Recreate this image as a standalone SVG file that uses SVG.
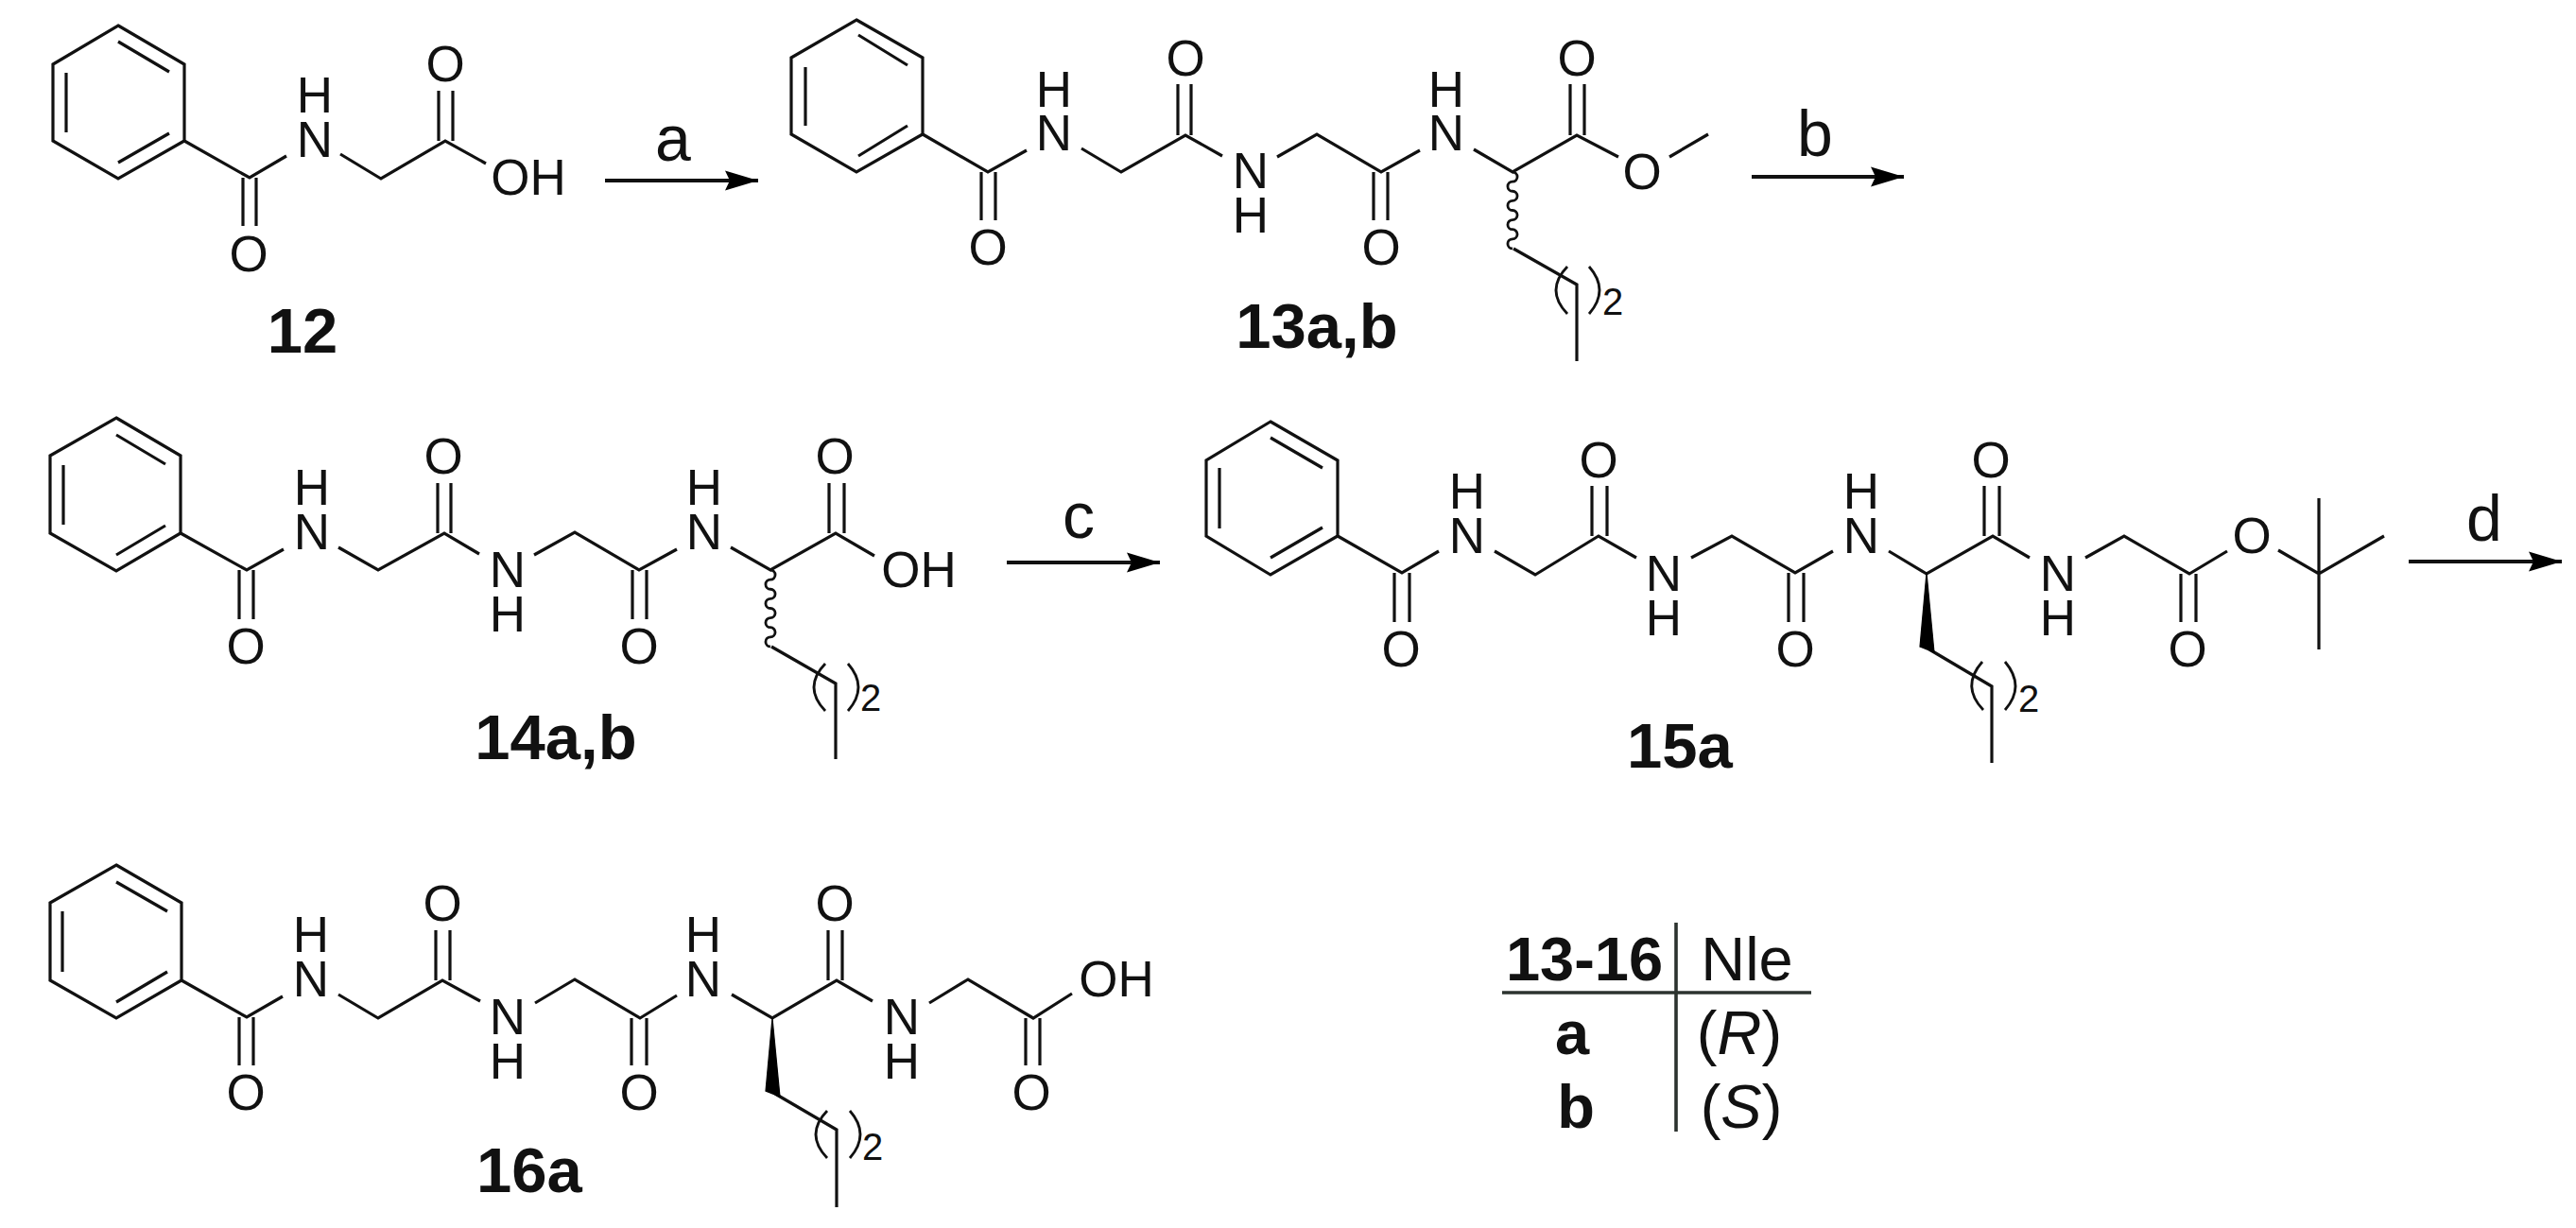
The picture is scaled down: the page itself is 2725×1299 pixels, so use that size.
<svg xmlns="http://www.w3.org/2000/svg" width="2725" height="1299" viewBox="0 0 2725 1299">
<style>
text{font-family:"Liberation Sans",Arial,sans-serif;fill:#111;text-anchor:middle}
.a{font-size:53px}
.s{font-size:40px}
.r{font-size:68px}
.l{font-size:67px;font-weight:bold}
.t{font-size:65px}
.b{fill:none;stroke:#111;stroke-width:3.2;stroke-linejoin:miter}
.p{fill:none;stroke:#111;stroke-width:2.8}
.v{fill:none;stroke:#111;stroke-width:2.8}
.w{fill:#000;stroke:#000;stroke-width:1.2}
.g{stroke:#2c332f;stroke-width:3.6}
.c{stroke:#111;stroke-width:3.8;fill:none}
</style>
<defs>
<marker id="ah" markerUnits="userSpaceOnUse" markerWidth="38" markerHeight="24" refX="35" refY="12" orient="auto"><path d="M0,1.5L35,12L0,22.5L5,12Z" fill="#000"/></marker>
<path id="wave" class="v" d="M0,0a5.06,5.06 0 0 1 0,10.12a5.06,5.06 0 0 0 0,10.12a5.06,5.06 0 0 1 0,10.12a5.06,5.06 0 0 0 0,10.12a5.06,5.06 0 0 1 0,10.12a5.06,5.06 0 0 0 0,10.12a5.06,5.06 0 0 1 0,10.12a5.06,5.06 0 0 0 0,10.12"/>
</defs>
<rect width="2725" height="1299" fill="#fff"/>
<g id="connectors">
<line class="c" x1="640" y1="191" x2="802" y2="191" marker-end="url(#ah)"/>
<line class="c" x1="1853" y1="187" x2="2014" y2="187" marker-end="url(#ah)"/>
<line class="c" x1="1065" y1="595" x2="1227" y2="595" marker-end="url(#ah)"/>
<line class="c" x1="2548" y1="594" x2="2710" y2="594" marker-end="url(#ah)"/>
<text class="r" x="712" y="170">a</text>
<text class="r" x="1920" y="165">b</text>
<text class="r" x="1141" y="569">c</text>
<text class="r" x="2628" y="572">d</text>
</g>
<g id="mol-12">
<path class="b" d="M125,27L195,68V149L125,189L56,149V68ZM125,44L179,76M70,77V140M125,172L179,141M195,149L264,188L303,165M257,188V239M271,188V239M360,163L403,189L471,149L514,173M464,149V96M479,149V96"/>
<text class="a" x="263" y="287">O</text>
<text class="a" x="333" y="119">H<tspan x="333" dy="47">N</tspan></text>
<text class="a" x="471" y="86">O</text>
<text class="a" x="559" y="206">OH</text>
<text class="l" x="320" y="373">12</text>
</g>
<g id="mol-13ab">
<path class="b" d="M906,21L976,61V142L906,182L837,142V61ZM908,37L960,69M852,71V133M908,165L960,133M976,142L1045,182L1086,159M1038,182V233M1053,182V233M1144,157L1186,182L1254,143L1293,165M1246,143V89M1260,143V89M1351,166L1393,142L1461,182L1502,159M1453,182V233M1468,182V233M1559,158L1600,182L1668,143L1712,166M1661,143V89M1676,143V89M1766,166L1807,142M1601,263L1668,301V382"/>
<use href="#wave" x="1600" y="182"/>
<path class="p" d="M1658,282Q1634,307 1658,332M1681,282Q1703,307 1681,332"/>
<text class="a" x="1045" y="280">O</text>
<text class="a" x="1115" y="113">H<tspan x="1115" dy="46">N</tspan></text>
<text class="a" x="1254" y="80">O</text>
<text class="a" x="1323" y="199">N<tspan x="1323" dy="47">H</tspan></text>
<text class="a" x="1461" y="280">O</text>
<text class="a" x="1530" y="113">H<tspan x="1530" dy="46">N</tspan></text>
<text class="a" x="1668" y="80">O</text>
<text class="a" x="1737" y="200">O</text>
<text class="s" x="1706" y="333">2</text>
<text class="l" x="1393" y="368">13a,b</text>
</g>
<g id="mol-14ab">
<path class="b" d="M123,442L191,482V564L123,604L53,564V482ZM123,460L175,491M67,492V555M123,587L175,556M191,564L261,603L300,581M253,603V655M268,603V655M358,579L400,603L470,564L507,586M463,564V511M477,564V511M565,587L608,563L676,603L716,581M669,603V655M684,603V655M773,579L815,603L884,564L925,588M877,564V511M893,564V511M816,684L884,723V803"/>
<use href="#wave" x="815" y="603"/>
<path class="p" d="M873,702Q849,727 873,752M897,702Q919,727 897,752"/>
<text class="a" x="260" y="702">O</text>
<text class="a" x="330" y="534">H<tspan x="330" dy="47">N</tspan></text>
<text class="a" x="469" y="501">O</text>
<text class="a" x="537" y="621">N<tspan x="537" dy="47">H</tspan></text>
<text class="a" x="676" y="702">O</text>
<text class="a" x="745" y="534">H<tspan x="745" dy="47">N</tspan></text>
<text class="a" x="883" y="501">O</text>
<text class="a" x="972" y="621">OH</text>
<text class="s" x="921" y="752">2</text>
<text class="l" x="588" y="803">14a,b</text>
</g>
<g id="mol-15a">
<path class="b" d="M1344,446L1415,487V567L1344,608L1276,567V487ZM1344,463L1399,495M1290,495V559M1344,590L1399,558M1415,567L1483,606L1522,583M1475,606V658M1491,606V658M1581,583L1624,608L1691,567L1731,590M1684,567V514M1700,567V514M1789,590L1832,567L1899,606L1939,583M1892,606V658M1908,606V658M1998,583L2038,607L2108,567L2147,590M2099,567V514M2115,567V514M2206,590L2247,567L2316,607L2356,583M2307,607V658M2323,607V658M2410,582L2453,607L2522,567M2453,527V687M2041,687L2107,726V807"/>
<path class="w" d="M2038,606L2031,684L2046,690Z"/>
<path class="p" d="M2097,700Q2074,726 2098,751M2121,700Q2143,726 2121,751"/>
<text class="a" x="1482" y="705">O</text>
<text class="a" x="1552" y="538">H<tspan x="1552" dy="47">N</tspan></text>
<text class="a" x="1691" y="505">O</text>
<text class="a" x="1760" y="625">N<tspan x="1760" dy="47">H</tspan></text>
<text class="a" x="1899" y="705">O</text>
<text class="a" x="1969" y="538">H<tspan x="1969" dy="47">N</tspan></text>
<text class="a" x="2106" y="505">O</text>
<text class="a" x="2177" y="625">N<tspan x="2177" dy="47">H</tspan></text>
<text class="a" x="2314" y="705">O</text>
<text class="a" x="2382" y="585">O</text>
<text class="s" x="2146" y="753">2</text>
<text class="l" x="1777" y="812">15a</text>
</g>
<g id="mol-16a">
<path class="b" d="M123,915L192,955V1037L123,1077L53,1037V955ZM123,933L177,964M66,964V1028M123,1060L177,1028M192,1037L261,1076L299,1054M253,1076V1127M268,1076V1127M358,1052L400,1077L468,1037L508,1059M461,1037V984M476,1037V984M566,1061L608,1036L677,1077L716,1053M668,1077V1127M684,1077V1127M774,1052L817,1077L885,1037L923,1059M876,1037V984M891,1037V984M983,1061L1024,1036L1093,1077L1134,1051M1085,1077V1127M1100,1077V1127M820,1157L885,1195V1277"/>
<path class="w" d="M817,1077L810,1154L825,1160Z"/>
<path class="p" d="M875,1175Q851,1200 875,1225M899,1175Q921,1200 899,1225"/>
<text class="a" x="260" y="1174">O</text>
<text class="a" x="329" y="1007">H<tspan x="329" dy="47">N</tspan></text>
<text class="a" x="468" y="974">O</text>
<text class="a" x="537" y="1094">N<tspan x="537" dy="47">H</tspan></text>
<text class="a" x="676" y="1174">O</text>
<text class="a" x="744" y="1007">H<tspan x="744" dy="47">N</tspan></text>
<text class="a" x="883" y="974">O</text>
<text class="a" x="954" y="1094">N<tspan x="954" dy="47">H</tspan></text>
<text class="a" x="1091" y="1174">O</text>
<text class="a" x="1181" y="1054">OH</text>
<text class="s" x="923" y="1227">2</text>
<text class="l" x="560" y="1261">16a</text>
</g>
<g id="table">
<line class="g" x1="1773" y1="976" x2="1773" y2="1197"/>
<line class="g" x1="1589" y1="1050" x2="1916" y2="1050"/>
<text class="l" x="1676" y="1037" style="font-size:65px">13-16</text>
<text class="t" x="1848" y="1037">Nle</text>
<text class="l" x="1663" y="1115" style="font-size:65px">a</text>
<text class="l" x="1667" y="1193" style="font-size:65px">b</text>
<text class="t" x="1840" y="1115">(<tspan font-style="italic">R</tspan>)</text>
<text class="t" x="1842" y="1193">(<tspan font-style="italic">S</tspan>)</text>
</g>
</svg>
